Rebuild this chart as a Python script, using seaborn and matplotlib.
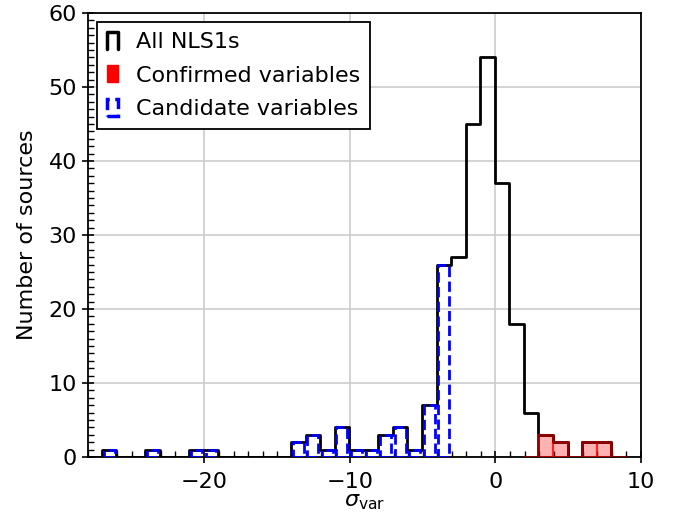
import numpy as np
import pandas as pd
import matplotlib
matplotlib.use("Agg")
import matplotlib.pyplot as plt
import seaborn as sns
from matplotlib.ticker import MultipleLocator
from matplotlib.lines import Line2D
from matplotlib.patches import Patch
from matplotlib.legend_handler import HandlerBase

# ---- data (bin centres and counts) ----
all_centers = [-26.5, -23.5, -20.5, -19.5, -13.5, -12.5, -11.5, -10.5, -9.5, -8.5,
               -7.5, -6.5, -5.5, -4.5, -3.5, -2.5, -1.5, -0.5, 0.5, 1.5, 2.5,
               3.5, 4.5, 6.5, 7.5]
all_counts = [1, 1, 1, 1, 2, 3, 1, 4, 1, 1,
              3, 4, 1, 7, 26, 27, 45, 54, 37, 18, 6,
              3, 2, 2, 2]

cand_centers = [-26.5, -23.5, -20.5, -19.5, -13.5, -12.5, -11.5, -10.5, -9.5, -8.5,
                -7.5, -6.5, -5.5, -4.5, -3.5]
cand_counts = [1, 1, 1, 1, 2, 3, 1, 4, 1, 1, 3, 4, 1, 7, 26]

conf_centers = [3.5, 4.5, 6.5, 7.5]
conf_counts = [3, 2, 2, 2]

legend_labels = ["All NLS1s", "Confirmed variables", "Candidate variables"]
x_ticks = [-20, -10, 0, 10]
y_ticks = [0, 10, 20, 30, 40, 50, 60]

df_all = pd.DataFrame({"sigma": all_centers, "n": all_counts})
df_cand = pd.DataFrame({"sigma": cand_centers, "n": cand_counts})
df_conf = pd.DataFrame({"sigma": conf_centers, "n": conf_counts})

# ---- style ----
sns.set_style("ticks")
plt.rcParams["font.family"] = ["DejaVu Sans"]
plt.rcParams["font.size"] = 16
plt.rcParams["mathtext.fontset"] = "dejavusans"
for k in ["text.color", "axes.labelcolor", "xtick.color", "ytick.color"]:
    plt.rcParams[k] = "black"

fig = plt.figure(figsize=(6.81, 5.27), dpi=100)
ax = fig.add_axes([88 / 681, (527 - 457) / 527, (641 - 88) / 681, (457 - 13) / 527])

# All NLS1s: black step outline
sns.histplot(data=df_all, x="sigma", weights="n", binwidth=1.0, binrange=(-28.05, 8.95),
             element="step", fill=False, color="black", linewidth=2.0, ax=ax, zorder=3)

# Candidate variables: blue dashed bars
n_before = len(ax.patches)
sns.histplot(data=df_cand, x="sigma", weights="n", binwidth=1.0, binrange=(-27.05, -3.05),
             element="bars", fill=False, shrink=0.75, color="blue", edgecolor="blue",
             linestyle="--", linewidth=2.0, ax=ax, zorder=4)
for p in list(ax.patches[n_before:]):
    p.set_edgecolor("blue")
    if p.get_height() == 0:
        p.remove()

# Confirmed variables: light red filled bars + dark red outline
n_before = len(ax.patches)
sns.histplot(data=df_conf, x="sigma", weights="n", binwidth=1.0, binrange=(1.95, 8.95),
             element="bars", fill=True, facecolor=(1, 0, 0, 0.3), edgecolor=(1, 0, 0, 0.55),
             linewidth=1.5, ax=ax, zorder=5)
for p in list(ax.patches[n_before:]):
    if p.get_height() == 0:
        p.remove()
sns.histplot(data=df_conf, x="sigma", weights="n", binwidth=1.0, binrange=(1.95, 8.95),
             element="step", fill=False, color="darkred", linewidth=2.0, ax=ax, zorder=6)

# ---- axes ----
ax.set_xlim(-28, 10)
ax.set_ylim(0, 60)
ax.set_xticks(x_ticks)
ax.set_yticks(y_ticks)
ax.xaxis.set_minor_locator(MultipleLocator(1))
ax.yaxis.set_minor_locator(MultipleLocator(1))
ax.tick_params(which="major", direction="inout", length=9, width=1.2, labelsize=16,
               colors="black")
ax.tick_params(which="minor", direction="in", length=4, width=1)
ax.tick_params(axis="x", which="major", pad=6)
ax.set_axisbelow(True)
ax.grid(True, which="major", color="#cccccc", linewidth=1.2)
for s in ax.spines.values():
    s.set_visible(True)
    s.set_linewidth(1.3)
    s.set_color("black")

ax.set_xlabel(r"$\sigma_{\mathrm{var}}$", fontsize=16, labelpad=0)
ax.set_ylabel("Number of sources", fontsize=16, labelpad=8)


class PiHandler(HandlerBase):
    def create_artists(self, legend, orig_handle, xdescent, ydescent, width, height,
                       fontsize, trans):
        x0, y0 = -xdescent, -ydescent
        line = Line2D([x0, x0, x0 + width, x0 + width],
                      [y0, y0 + height, y0 + height, y0],
                      color="black", linewidth=2.5, transform=trans)
        return [line]


h_all = Line2D([], [], color="black")
h_conf = Patch(facecolor="red", edgecolor="red")
h_cand = Patch(fill=False, edgecolor="blue", linestyle="--", linewidth=2.5)

leg = ax.legend([h_all, h_conf, h_cand], legend_labels, loc="upper left",
                fontsize=16, handlelength=0.5, handleheight=0.8, handletextpad=0.8,
                fancybox=False, framealpha=1, edgecolor="black",
                borderpad=0.45, labelspacing=0.6, borderaxespad=0.4,
                handler_map={h_all: PiHandler()})
leg.get_frame().set_linewidth(1.3)

fig.savefig("out.png", dpi=100)
